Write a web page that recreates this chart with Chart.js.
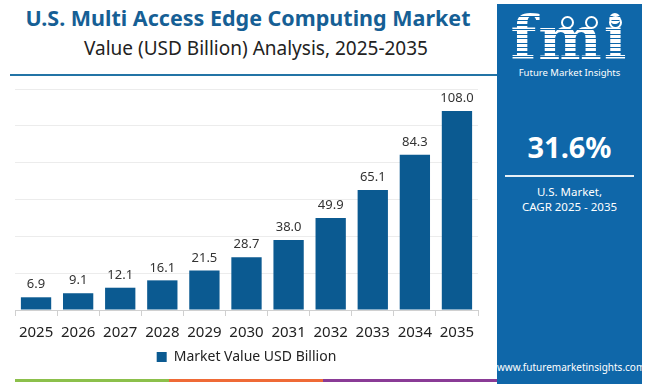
<!DOCTYPE html>
<html lang="en">
<head>
<meta charset="UTF-8">
<script src="https://cdn.jsdelivr.net/npm/chart.js"></script>
<title>U.S. Multi Access Edge Computing Market</title>
<style>
  body { margin: 0; width: 650px; height: 384px; background: #fff; font-family: "Noto Sans", sans-serif; position: relative; overflow: hidden; }
  .titulo { position: absolute; left: 0; width: 496px; top: 3px; text-align: center; color: #165f95; font-weight: 700; font-size: 21.5px; }
  .subtitulo { position: absolute; left: 8px; width: 496px; top: 35px; text-align: center; color: #222; font-size: 19px; }
  .linha { position: absolute; left: 10px; top: 74px; width: 487px; height: 2px; background: #2374a6; }
  .grafico { position: absolute; left: 0; top: 80px; width: 490px; height: 298px; }
  .faixa { position: absolute; top: 379px; height: 3px; }
  .painel { position: absolute; left: 497px; top: 4px; width: 145px; height: 380px; background: #0f67a9; color: #fff; text-align: center; }
  .logo { position: relative; margin-top: 4px; height: 58px; font-family: "DejaVu Serif", serif; font-weight: 700; font-size: 60px; line-height: 60px; letter-spacing: 2px;
    background: repeating-linear-gradient(#fff 0 3px, #0f67a9 3px 4.5px); -webkit-background-clip: text; background-clip: text; color: transparent; }
  .bola { position: absolute; width: 9px; height: 9px; border: 2px solid #fff; border-radius: 50%; top: 8px; }
  .fmi { font-size: 9.5px; margin-top: 0px; }
  .cagr { font-size: 29px; font-weight: 700; margin-top: 48px; }
  .sep { width: 129px; height: 2px; background: #fff; margin: 9px auto 0; opacity: 0.9; }
  .mercado { font-size: 11.5px; margin-top: 7px; line-height: 15px; }
  .site { position: absolute; bottom: 10px; width: 100%; font-size: 10px; }
</style>
</head>
<body>
  <div class="titulo">U.S. Multi Access Edge Computing Market</div>
  <div class="subtitulo">Value (USD Billion) Analysis, 2025-2035</div>
  <div class="linha"></div>
  <div class="grafico"><canvas id="myChartCanvas1"></canvas></div>
  <div class="faixa" style="left:15px;width:154px;background:#8cc04b"></div>
  <div class="faixa" style="left:169px;width:154px;background:#ef6a36"></div>
  <div class="faixa" style="left:323px;width:174px;background:#8a3b96"></div>

  <div class="painel">
    <div class="logo">fmi
      <span class="bola" style="left:64px"></span>
      <span class="bola" style="left:88px"></span>
      <span class="bola" style="left:112px"></span>
    </div>
    <div class="fmi">Future Market Insights</div>
    <div class="cagr">31.6%</div>
    <div class="sep"></div>
    <div class="mercado">U.S. Market,<br>CAGR 2025 - 2035</div>
    <div class="site">www.futuremarketinsights.com</div>
  </div>

<script>
  // dados do gráfico
  const anos = ['2025', '2026', '2027', '2028', '2029', '2030', '2031', '2032', '2033', '2034', '2035'];
  const valores = [6.9, 9.1, 12.1, 16.1, 21.5, 28.7, 38.0, 49.9, 65.1, 84.3, 108.0];
  const nomeSerie = 'Market Value USD Billion';

  // rótulos acima das barras
  const rotulos = {
    id: 'rotulos',
    afterDatasetsDraw(chart) {
      const ctx = chart.ctx;
      const meta = chart.getDatasetMeta(0);
      ctx.save();
      ctx.font = '13px "Noto Sans"';
      ctx.fillStyle = '#333';
      ctx.textAlign = 'center';
      ctx.textBaseline = 'bottom';
      meta.data.forEach(function (barra, i) {
        ctx.fillText(valores[i].toFixed(1), barra.x, barra.y - 6);
      });
      ctx.restore();
    }
  };

  const dados = {
    labels: anos,
    datasets: [{
      label: nomeSerie,
      data: valores,
      backgroundColor: '#0b5a91',
      barPercentage: 0.72,
      categoryPercentage: 1
    }]
  };

  const config = {
    type: 'bar',
    data: dados,
    plugins: [rotulos],
    options: {
      responsive: true,
      maintainAspectRatio: false,
      animation: false,
      layout: { padding: { left: 15, right: 12, top: 9, bottom: 4 } },
      plugins: {
        tooltip: { enabled: false },
        legend: {
          position: 'bottom',
          labels: { boxWidth: 10, boxHeight: 10, color: '#222', font: { family: 'Noto Sans', size: 14 }, padding: 4 }
        }
      },
      scales: {
        x: {
          // aproxima a legenda dos anos
          afterFit: function (escala) { escala.height -= 4; },
          grid: { drawOnChartArea: false, drawTicks: true, tickLength: 6, color: '#d0d0d0', offset: true },
          border: { color: '#d0d0d0' },
          ticks: { color: '#222', font: { family: 'Noto Sans', size: 15 }, padding: 8 }
        },
        y: {
          min: 0,
          max: 120,
          ticks: { stepSize: 20, display: false },
          grid: { color: '#ececec', drawTicks: false },
          border: { display: false }
        }
      }
    }
  };

  let myChart = new Chart(document.getElementById('myChartCanvas1'), config);
</script>
</body>
</html>
